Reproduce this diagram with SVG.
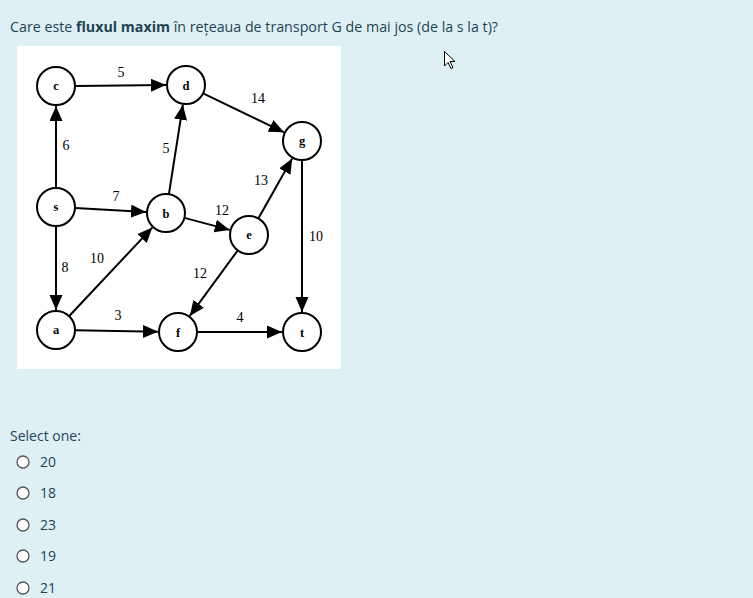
<svg xmlns="http://www.w3.org/2000/svg" width="753" height="598" viewBox="0 0 753 598">
<style>
.ui{font-family:"Open Sans","Noto Sans","Liberation Sans",sans-serif;fill:#1f4450;}
.nd circle{fill:#fff;stroke:#000;stroke-width:2;}
.nd text{font-family:"Liberation Serif","DejaVu Serif",serif;font-weight:bold;font-size:12.5px;text-anchor:middle;fill:#000;}
.lbl{font-family:"Liberation Serif","DejaVu Serif",serif;font-size:14px;text-anchor:middle;fill:#000;}
#edges line{stroke:#000;stroke-width:2;marker-end:url(#ah);}
.rd{fill:#fff;stroke:#555;stroke-width:1.3;}
</style>
<defs>
<marker id="ah" markerUnits="userSpaceOnUse" markerWidth="16" markerHeight="14" refX="15" refY="6.5" orient="auto">
<path d="M0,0 L15,6.5 L0,13 z" fill="#000"/>
</marker>
</defs>
<rect width="753" height="598" fill="#def0f6"/>
<text class="ui" x="10" y="32" font-size="14.5" textLength="488" lengthAdjust="spacingAndGlyphs">Care este <tspan font-weight="bold">fluxul maxim</tspan> în rețeaua de transport G de mai jos (de la s la t)?</text>
<rect x="17" y="46" width="324" height="323" fill="#fff"/>
<g id="edges">
<line x1="75" y1="85.9" x2="166" y2="85.1"/>
<line x1="56" y1="188" x2="56" y2="106"/>
<line x1="75" y1="208" x2="146" y2="211.9"/>
<line x1="56" y1="226" x2="56" y2="310"/>
<line x1="168.9" y1="194.2" x2="182.9" y2="104.8"/>
<line x1="203.1" y1="93.3" x2="284" y2="132.3"/>
<line x1="184.4" y1="217.9" x2="229.7" y2="229.9"/>
<line x1="258.3" y1="218.4" x2="292.2" y2="158.4"/>
<line x1="237.8" y1="250.3" x2="189.8" y2="315.9"/>
<line x1="69" y1="316.2" x2="152.3" y2="227.6"/>
<line x1="75" y1="330.3" x2="158" y2="331.7"/>
<line x1="197" y1="332" x2="282" y2="332"/>
<line x1="302" y1="160" x2="302" y2="312"/>
</g>
<g id="edge-labels">
<text class="lbl" x="121" y="77">5</text>
<text class="lbl" x="258" y="103">14</text>
<text class="lbl" x="66" y="150">6</text>
<text class="lbl" x="166" y="153">5</text>
<text class="lbl" x="261" y="185">13</text>
<text class="lbl" x="116" y="201">7</text>
<text class="lbl" x="222" y="215">12</text>
<text class="lbl" x="316" y="241">10</text>
<text class="lbl" x="65" y="272">8</text>
<text class="lbl" x="97" y="263">10</text>
<text class="lbl" x="200" y="278">12</text>
<text class="lbl" x="118" y="320">3</text>
<text class="lbl" x="240" y="322">4</text>
</g>
<g id="node-c" class="nd"><circle cx="56" cy="86" r="19"/><text x="56" y="90">c</text></g>
<g id="node-d" class="nd"><circle cx="186" cy="85" r="19"/><text x="186" y="89.5">d</text></g>
<g id="node-g" class="nd"><circle cx="302" cy="141" r="19"/><text x="302" y="145">g</text></g>
<g id="node-s" class="nd"><circle cx="56" cy="207" r="19"/><text x="56" y="211">s</text></g>
<g id="node-b" class="nd"><circle cx="166" cy="213" r="19"/><text x="166" y="217.5">b</text></g>
<g id="node-e" class="nd"><circle cx="249" cy="235" r="19"/><text x="249" y="239">e</text></g>
<g id="node-a" class="nd"><circle cx="56" cy="330" r="19"/><text x="56" y="334">a</text></g>
<g id="node-f" class="nd"><circle cx="178" cy="332" r="19"/><text x="178" y="336.5">f</text></g>
<g id="node-t" class="nd"><circle cx="302" cy="332" r="19"/><text x="302" y="336.5">t</text></g>
<text class="ui" x="10" y="441" font-size="14">Select one:</text>
<g id="options">
<circle class="rd" cx="23" cy="462" r="6"/><text class="ui" x="40" y="467" font-size="14">20</text>
<circle class="rd" cx="23" cy="493" r="6"/><text class="ui" x="40" y="498" font-size="14">18</text>
<circle class="rd" cx="23" cy="525" r="6"/><text class="ui" x="40" y="530" font-size="14">23</text>
<circle class="rd" cx="23" cy="556" r="6"/><text class="ui" x="40" y="561" font-size="14">19</text>
<circle class="rd" cx="23" cy="588" r="6"/><text class="ui" x="40" y="593" font-size="14">21</text>
</g>
<path d="M444.5,51.5 L444.5,66 L448,62.5 L451,68.5 L453,67.5 L450,61.5 L455,61.5 Z" fill="#fff" stroke="#000" stroke-width="1" stroke-linejoin="round"/>
</svg>
